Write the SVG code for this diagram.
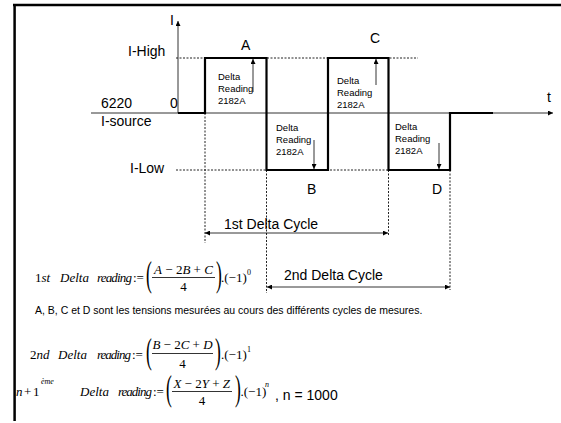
<svg xmlns="http://www.w3.org/2000/svg" width="561" height="423" viewBox="0 0 561 423">
<defs>
<marker id="ah" viewBox="0 0 10 10" refX="10" refY="5" markerWidth="6" markerHeight="5" markerUnits="userSpaceOnUse" orient="auto-start-reverse"><path d="M0,0 L10,5 L0,10 z" fill="#000"/></marker>
</defs>
<style>
.lbl{font-family:"Liberation Sans",Arial,sans-serif;font-size:14px;fill:#000}
.sm{font-family:"Liberation Sans",Arial,sans-serif;font-size:9.5px;fill:#000}
.note{font-family:"Liberation Sans",Arial,sans-serif;font-size:10.5px;fill:#000}
.eq{font-family:"Liberation Serif","Times New Roman",serif;font-size:13px;font-style:italic;fill:#000}
.up{font-style:normal}
.sup{font-family:"Liberation Serif","Times New Roman",serif;font-size:8px;fill:#000}
.par{font-family:"Liberation Serif","Times New Roman",serif;font-size:35px;fill:#000}
.dot{stroke:#222;stroke-width:1;stroke-dasharray:2 1.5;fill:none}
.wave{stroke:#000;stroke-width:2.2;fill:none}
.thin{stroke:#000;stroke-width:0.8;fill:none}
.axis{stroke:#333;stroke-width:1;fill:none}
.bar{stroke:#000;stroke-width:0.8}
</style>
<rect x="0" y="0" width="561" height="423" fill="#fff"/>
<path d="M13,5 H561 M14.6,4 V421" stroke="#000" stroke-width="2.5" fill="none"/>

<g id="connectors">
<path class="axis" d="M91,113 H553" marker-end="url(#ah)"/>
<path class="axis" d="M178,113 V21" marker-end="url(#ah)"/>
<path class="dot" d="M176,58 H418 M176,170 H388 M205,113 V243 M266.5,170 V293 M388.5,170 V236 M450,170 V290"/>
<path class="wave" d="M178,113 H205 V58 H266.5 V170 H328 V58 H388.5 V170 H450 V113 H493"/>
<path class="thin" d="M253,92 V59" marker-end="url(#ah)"/>
<path class="thin" d="M376,85 V59" marker-end="url(#ah)"/>
<path class="thin" d="M314,140 V169" marker-end="url(#ah)"/>
<path class="thin" d="M439,143 V169" marker-end="url(#ah)"/>
<path class="thin" d="M205,233 H388" marker-start="url(#ah)" marker-end="url(#ah)"/>
<path class="thin" d="M267,287 H450" marker-start="url(#ah)" marker-end="url(#ah)"/>
</g>

<g id="axis-labels">
<text class="lbl" x="170" y="25">I</text>
<text class="lbl" x="547" y="102">t</text>
<text class="lbl" x="128" y="56">I-High</text>
<text class="lbl" x="130" y="173">I-Low</text>
<text class="lbl" x="101" y="108">6220</text>
<text class="lbl" x="170" y="108">0</text>
<text class="lbl" x="101" y="126">I-source</text>
</g>

<g id="node-A">
<text class="lbl" x="241" y="50">A</text>
<text class="sm" x="218" y="80">Delta</text>
<text class="sm" x="218" y="92">Reading</text>
<text class="sm" x="218" y="104">2182A</text>
</g>
<g id="node-B">
<text class="lbl" x="307" y="194">B</text>
<text class="sm" x="276" y="131">Delta</text>
<text class="sm" x="276" y="143">Reading</text>
<text class="sm" x="276" y="155">2182A</text>
</g>
<g id="node-C">
<text class="lbl" x="370" y="43">C</text>
<text class="sm" x="337" y="84">Delta</text>
<text class="sm" x="337" y="96">Reading</text>
<text class="sm" x="337" y="108">2182A</text>
</g>
<g id="node-D">
<text class="lbl" x="432" y="194">D</text>
<text class="sm" x="395" y="130">Delta</text>
<text class="sm" x="395" y="142">Reading</text>
<text class="sm" x="395" y="154">2182A</text>
</g>

<g id="cycles">
<text class="lbl" x="224" y="229">1st Delta Cycle</text>
<text class="lbl" x="284" y="280">2nd Delta Cycle</text>
</g>

<g id="eq1">
<text class="eq" x="35" y="282"><tspan class="up">1</tspan>st</text>
<text class="eq" x="60" y="282">Delta</text>
<text class="eq" x="97" y="282" textLength="35">reading</text>
<text class="eq up" x="133" y="282">:=</text>
<text class="par" transform="translate(146,286) scale(0.5,1)">(</text>
<text class="eq" x="183.5" y="274" text-anchor="middle">A<tspan class="up"> − 2</tspan>B<tspan class="up"> + </tspan>C</text>
<line class="bar" x1="152" y1="277.5" x2="215" y2="277.5"/>
<text class="eq up" x="183.5" y="291" text-anchor="middle">4</text>
<text class="par" transform="translate(216,286) scale(0.5,1)">)</text>
<text class="eq up" x="221" y="282">.(−1)</text>
<text class="sup" x="247" y="275">0</text>
</g>

<text class="note" x="35" y="314">A, B, C et D sont les tensions mesurées au cours des différents cycles de mesures.</text>

<g id="eq2">
<text class="eq" x="30" y="359"><tspan class="up">2</tspan>nd</text>
<text class="eq" x="58" y="359">Delta</text>
<text class="eq" x="97" y="359" textLength="34">reading</text>
<text class="eq up" x="132" y="359">:=</text>
<text class="par" transform="translate(146,363) scale(0.5,1)">(</text>
<text class="eq" x="182.5" y="349" text-anchor="middle">B<tspan class="up"> − 2</tspan>C<tspan class="up"> + </tspan>D</text>
<line class="bar" x1="152" y1="353.5" x2="213" y2="353.5"/>
<text class="eq up" x="182.5" y="368" text-anchor="middle">4</text>
<text class="par" transform="translate(215,363) scale(0.5,1)">)</text>
<text class="eq up" x="221" y="359">.(−1)</text>
<text class="sup" x="247" y="352">1</text>
</g>

<g id="eq3">
<text class="eq" y="396"><tspan x="16">n</tspan><tspan class="up" x="24">+</tspan><tspan class="up" x="33">1</tspan></text>
<text class="sup" x="41" y="384" font-size="6" font-style="italic">ème</text>
<text class="eq" x="80" y="396">Delta</text>
<text class="eq" x="118" y="396" textLength="34">reading</text>
<text class="eq up" x="153" y="396">:=</text>
<text class="par" transform="translate(166,400) scale(0.5,1)">(</text>
<text class="eq" x="201.7" y="388" text-anchor="middle">X<tspan class="up"> − 2</tspan>Y<tspan class="up"> + </tspan>Z</text>
<line class="bar" x1="172" y1="391.5" x2="232" y2="391.5"/>
<text class="eq up" x="202" y="405" text-anchor="middle">4</text>
<text class="par" transform="translate(235,400) scale(0.5,1)">)</text>
<text class="eq up" x="240.5" y="396">.(−1)</text>
<text class="sup" x="265" y="387" font-style="italic">n</text>
<text class="lbl" x="275" y="400">, n = 1000</text>
</g>
</svg>
